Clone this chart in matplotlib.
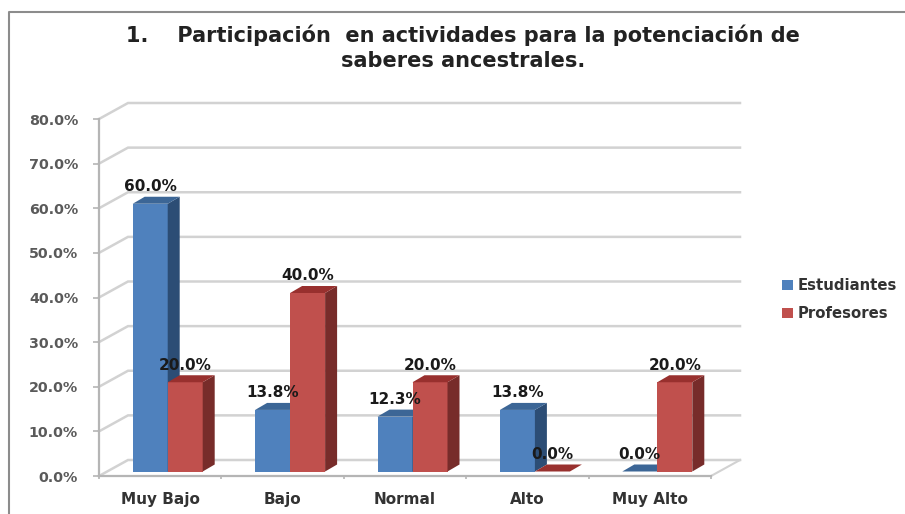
import matplotlib
matplotlib.use('Agg')
import matplotlib.pyplot as plt
from matplotlib.patches import Polygon, Rectangle

categories = ['Muy Bajo', 'Bajo', 'Normal', 'Alto', 'Muy Alto']
estudiantes = [60.0, 13.8, 12.3, 13.8, 0.0]
profesores = [20.0, 40.0, 20.0, 0.0, 20.0]
y_ticks = [0, 10, 20, 30, 40, 50, 60, 70, 80]

W, H = 905, 514
fig = plt.figure(figsize=(W / 100, H / 100), dpi=100, facecolor='white')

# plot box in pixels: front plane of the fake 3d chart
left, right, top, bottom = 99, 711, 119, 476
ax = fig.add_axes([left / W, 1 - bottom / H, (right - left) / W, (bottom - top) / H])
ax.set_xlim(0, 5)
ax.set_ylim(0, 80)
ax.patch.set_visible(False)

px_x = 5 / (right - left)
px_y = 80 / (bottom - top)
# depth of the wall, offset of the bars, depth of the bars
dx, dy = 29 * px_x, 16 * px_y
off_x, off_y = 7.5 * px_x, 4.5 * px_y
bar_dx, bar_dy = 12 * px_x, 7 * px_y
bar_w = 35 * px_x

grid = '#d2d2d2'
for v in y_ticks:
    ax.plot([0, dx, 5 + dx], [v, v + dy, v + dy], color=grid, lw=1.8, clip_on=False, zorder=1,
            solid_joinstyle='miter')
ax.plot([5, 5 + dx], [0, dy], color=grid, lw=1.5, clip_on=False, zorder=1)

# 0% bars are thin slabs, still get a top face
faces = [('#4f81bd', '#2c4d75', '#3c6696'), ('#c0504d', '#772c2a', '#98302e')]
for s, vals in enumerate([estudiantes, profesores]):
    front, side, top_c = faces[s]
    for i, v in enumerate(vals):
        x0 = i + 0.5 - bar_w + off_x + s * bar_w
        y0 = off_y
        x1 = x0 + bar_w
        y1 = v + off_y
        z = 3 + i * 2 + s
        ax.add_patch(Rectangle((x0, y0), bar_w, v, fc=front, ec='none', clip_on=False, zorder=z))
        ax.add_patch(Polygon([(x1, y0), (x1 + bar_dx, y0 + bar_dy), (x1 + bar_dx, y1 + bar_dy), (x1, y1)],
                             fc=side, ec='none', clip_on=False, zorder=z))
        ax.add_patch(Polygon([(x0, y1), (x0 + bar_dx, y1 + bar_dy), (x1 + bar_dx, y1 + bar_dy), (x1, y1)],
                             fc=top_c, ec='none', clip_on=False, zorder=z))
        ax.text((x0 + x1) / 2 + bar_dx / 2 - 6 * px_x, y1 + bar_dy + 0.6, '%.1f%%' % v, ha='center', va='bottom',
                fontsize=11, fontweight='bold', color='#1a1a1a', clip_on=False, zorder=30)

for name in ['top', 'right']:
    ax.spines[name].set_visible(False)
for name in ['left', 'bottom']:
    ax.spines[name].set_color('#b5b5b5')
    ax.spines[name].set_linewidth(1.6)

ax.set_yticks(y_ticks)
ax.set_yticklabels(['%.1f%%' % v for v in y_ticks], fontsize=10.3, fontweight='bold', color='#5a5a5a')
ax.set_xticks(range(6))
ax.set_xticklabels([])
ax.set_xticks([i + 0.5 for i in range(5)], minor=True)
ax.set_xticklabels(categories, minor=True, fontsize=11, fontweight='bold', color='#333333')
ax.tick_params(axis='x', which='major', length=2.5, color='#b5b5b5', width=1.2)
ax.tick_params(axis='x', which='minor', length=0, pad=11.5)
ax.tick_params(axis='y', length=4, color='#b5b5b5', width=1.2, pad=11)

fig.text(463 / W, 1 - 35 / H, '1.    Participación  en actividades para la potenciación de', ha='center', va='center',
         fontsize=15, fontweight='bold', color='#222222')
fig.text(463 / W, 1 - 61 / H, 'saberes ancestrales.', ha='center', va='center',
         fontsize=15, fontweight='bold', color='#222222')

# legend
for label, color, yy in [('Estudiantes', faces[0][0], 285), ('Profesores', faces[1][0], 313)]:
    fig.add_artist(Rectangle((782 / W, 1 - (yy + 5) / H), 11 / W, 10 / H, fc=color, ec='none',
                             transform=fig.transFigure))
    fig.text(798 / W, 1 - yy / H, label, ha='left', va='center', fontsize=10.7, fontweight='bold', color='#333333')

# chart frame
fig.add_artist(plt.Line2D([9 / W, 9 / W, 1], [0, 1 - 12 / H, 1 - 12 / H], color='#8c8c8c', lw=1.5,
                          transform=fig.transFigure))

fig.savefig('out.png', dpi=100)
